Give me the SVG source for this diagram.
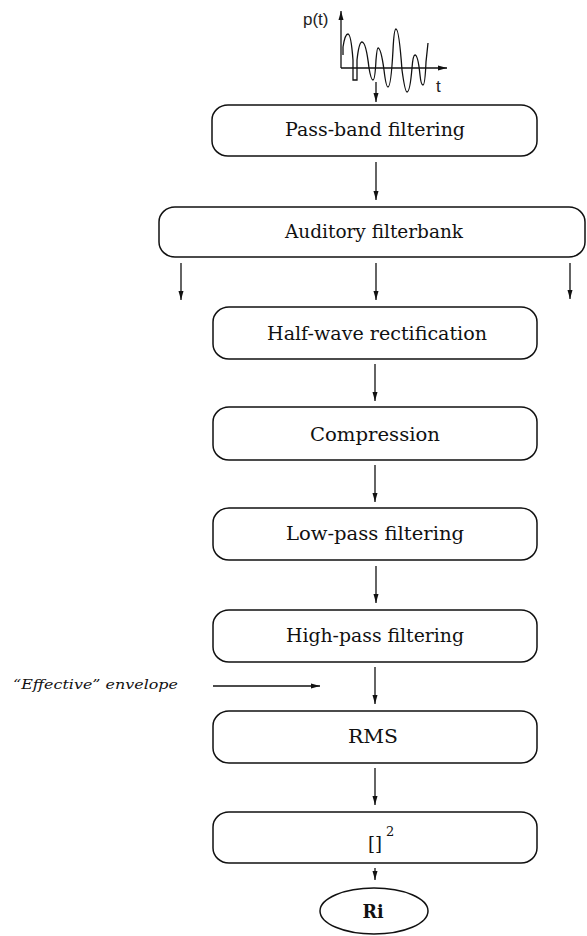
<svg xmlns="http://www.w3.org/2000/svg" width="587" height="936" viewBox="0 0 587 936">
<style>
.box{fill:#fff;stroke:#111;stroke-width:1.5}
.lbl{font-family:"DejaVu Serif","Liberation Serif",serif;font-size:18px;fill:#111;text-anchor:middle}
.ln{stroke:#111;stroke-width:1.3;fill:none}
.sans{font-family:"Liberation Sans",Arial,sans-serif;font-size:17px;fill:#222}
</style>
<defs>
<marker id="ah" markerUnits="userSpaceOnUse" markerWidth="10" markerHeight="6" refX="9" refY="3" orient="auto">
<path d="M0,0.5 L9,3 L0,5.5 Z" fill="#111"/>
</marker>
</defs>
<rect width="587" height="936" fill="#fff"/>

<g id="signal">
<text class="sans" x="303" y="25">p(t)</text>
<text class="sans" x="436" y="92">t</text>
<line class="ln" x1="341" y1="68" x2="341" y2="11" marker-end="url(#ah)"/>
<line class="ln" x1="341" y1="68" x2="447" y2="68" marker-end="url(#ah)"/>
<path class="ln" d="M343,55 L343,47 Q345,34 348,34 Q351,34 353,60 L353,80 L357,80 L357,60 Q359,42 362,42 Q366,42 369,68 Q371,80 373,80 Q375,80 376,60 Q377,48 378,48 Q381,48 384,70 Q386,87 388,87 Q391,87 393,50 Q394,29 396,29 Q399,29 402,70 Q405,92 407,92 Q410,92 412,68 Q413,55 415,55 Q418,55 420,75 Q421,85 423,85 Q425,85 426,62 L428,43"/>
</g>

<g id="passband">
<rect class="box" x="212" y="105" width="325" height="51" rx="16" ry="15"/>
<text class="lbl" x="375" y="136" textLength="180" lengthAdjust="spacingAndGlyphs">Pass-band filtering</text>
</g>
<g id="auditory">
<rect class="box" x="159" y="207" width="426" height="50" rx="16" ry="15"/>
<text class="lbl" x="374" y="238" textLength="178" lengthAdjust="spacingAndGlyphs">Auditory filterbank</text>
</g>
<g id="halfwave">
<rect class="box" x="213" y="307" width="324" height="52" rx="16" ry="15"/>
<text class="lbl" x="377" y="340" textLength="220" lengthAdjust="spacingAndGlyphs">Half-wave rectification</text>
</g>
<g id="compression">
<rect class="box" x="213" y="407" width="324" height="53" rx="16" ry="15"/>
<text class="lbl" x="375" y="441" textLength="130" lengthAdjust="spacingAndGlyphs">Compression</text>
</g>
<g id="lowpass">
<rect class="box" x="213" y="508" width="324" height="52" rx="16" ry="15"/>
<text class="lbl" x="375" y="540" textLength="178" lengthAdjust="spacingAndGlyphs">Low-pass filtering</text>
</g>
<g id="highpass">
<rect class="box" x="213" y="610" width="324" height="52" rx="16" ry="15"/>
<text class="lbl" x="375" y="642" textLength="178" lengthAdjust="spacingAndGlyphs">High-pass filtering</text>
</g>
<g id="envelope">
<text x="13" y="689" style="font-family:'DejaVu Serif','Liberation Serif',serif;font-style:italic;font-size:13px;fill:#111" textLength="165" lengthAdjust="spacingAndGlyphs">“Effective” envelope</text>
</g>
<g id="rms">
<rect class="box" x="213" y="711" width="324" height="52" rx="16" ry="15"/>
<text class="lbl" x="373" y="743" textLength="50" lengthAdjust="spacingAndGlyphs">RMS</text>
</g>
<g id="square">
<rect class="box" x="213" y="812" width="324" height="51" rx="16" ry="15"/>
<text class="lbl" x="375" y="850" text-anchor="middle">[]</text>
<text x="386" y="836" style="font-family:'DejaVu Serif','Liberation Serif',serif;font-size:13px;fill:#111">2</text>
</g>
<g id="ri">
<ellipse cx="374" cy="911" rx="54" ry="23" fill="#fff" stroke="#111" stroke-width="1.5"/>
<text class="lbl" x="373" y="918" style="font-weight:bold" textLength="21" lengthAdjust="spacingAndGlyphs">Ri</text>
</g>

<g id="connectors">
<line class="ln" x1="376" y1="82" x2="376" y2="102" marker-end="url(#ah)"/>
<line class="ln" x1="376" y1="162" x2="376" y2="200" marker-end="url(#ah)"/>
<line class="ln" x1="181" y1="263" x2="181" y2="300" marker-end="url(#ah)"/>
<line class="ln" x1="376" y1="263" x2="376" y2="300" marker-end="url(#ah)"/>
<line class="ln" x1="570" y1="263" x2="570" y2="299" marker-end="url(#ah)"/>
<line class="ln" x1="375" y1="364" x2="375" y2="401" marker-end="url(#ah)"/>
<line class="ln" x1="375" y1="465" x2="375" y2="502" marker-end="url(#ah)"/>
<line class="ln" x1="376" y1="566" x2="376" y2="603" marker-end="url(#ah)"/>
<line class="ln" x1="375" y1="667" x2="375" y2="704" marker-end="url(#ah)"/>
<line class="ln" x1="213" y1="686" x2="320" y2="686" marker-end="url(#ah)"/>
<line class="ln" x1="375" y1="768" x2="375" y2="805" marker-end="url(#ah)"/>
<line class="ln" x1="375" y1="868" x2="375" y2="880" marker-end="url(#ah)"/>
</g>
</svg>
